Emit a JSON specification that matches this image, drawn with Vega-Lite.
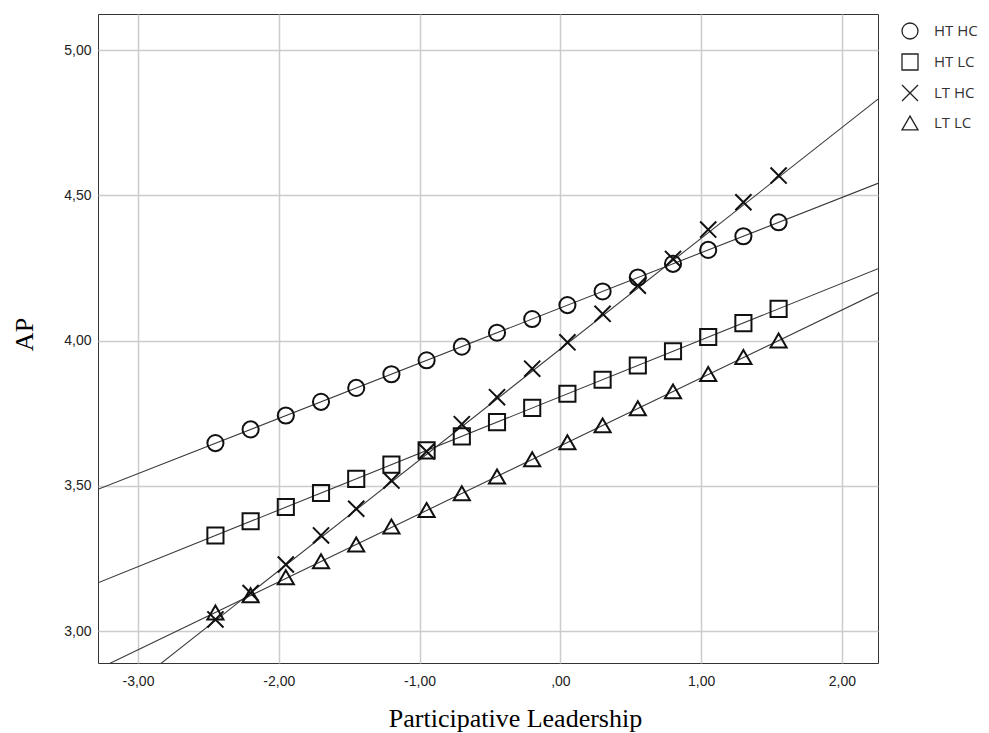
{
  "$schema": "https://vega.github.io/schema/vega-lite/v6.json",
  "width": 780,
  "height": 649,
  "autosize": "none",
  "padding": {"left": 98, "top": 14, "right": 111, "bottom": 70},
  "background": "white",
  "config": {
    "view": {"stroke": "#333333", "strokeWidth": 1},
    "axis": {
      "grid": true,
      "gridColor": "#cccccc",
      "gridWidth": 1.5,
      "ticks": false,
      "domain": false,
      "labelFont": "Liberation Sans",
      "labelFontSize": 14,
      "labelColor": "#222222",
      "titleFont": "Liberation Serif",
      "titleFontSize": 26,
      "titleFontWeight": "normal",
      "titleColor": "#000000"
    }
  },
  "datasets": {
    "points": [
      {"series": "HT HC", "x": -2.45, "y": 3.647}, {"series": "HT HC", "x": -2.2, "y": 3.694}, {"series": "HT HC", "x": -1.95, "y": 3.742}, {"series": "HT HC", "x": -1.7, "y": 3.789}, {"series": "HT HC", "x": -1.45, "y": 3.837}, {"series": "HT HC", "x": -1.2, "y": 3.884}, {"series": "HT HC", "x": -0.95, "y": 3.932}, {"series": "HT HC", "x": -0.7, "y": 3.979}, {"series": "HT HC", "x": -0.45, "y": 4.027}, {"series": "HT HC", "x": -0.2, "y": 4.074}, {"series": "HT HC", "x": 0.05, "y": 4.122}, {"series": "HT HC", "x": 0.3, "y": 4.169}, {"series": "HT HC", "x": 0.55, "y": 4.217}, {"series": "HT HC", "x": 0.8, "y": 4.264}, {"series": "HT HC", "x": 1.05, "y": 4.312}, {"series": "HT HC", "x": 1.3, "y": 4.359}, {"series": "HT HC", "x": 1.55, "y": 4.407},
      {"series": "HT LC", "x": -2.45, "y": 3.329}, {"series": "HT LC", "x": -2.2, "y": 3.378}, {"series": "HT LC", "x": -1.95, "y": 3.427}, {"series": "HT LC", "x": -1.7, "y": 3.475}, {"series": "HT LC", "x": -1.45, "y": 3.524}, {"series": "HT LC", "x": -1.2, "y": 3.573}, {"series": "HT LC", "x": -0.95, "y": 3.622}, {"series": "HT LC", "x": -0.7, "y": 3.670}, {"series": "HT LC", "x": -0.45, "y": 3.719}, {"series": "HT LC", "x": -0.2, "y": 3.768}, {"series": "HT LC", "x": 0.05, "y": 3.817}, {"series": "HT LC", "x": 0.3, "y": 3.865}, {"series": "HT LC", "x": 0.55, "y": 3.914}, {"series": "HT LC", "x": 0.8, "y": 3.963}, {"series": "HT LC", "x": 1.05, "y": 4.012}, {"series": "HT LC", "x": 1.3, "y": 4.060}, {"series": "HT LC", "x": 1.55, "y": 4.109},
      {"series": "LT HC", "x": -2.45, "y": 3.040}, {"series": "LT HC", "x": -2.2, "y": 3.131}, {"series": "LT HC", "x": -1.95, "y": 3.229}, {"series": "LT HC", "x": -1.7, "y": 3.329}, {"series": "LT HC", "x": -1.45, "y": 3.421}, {"series": "LT HC", "x": -1.2, "y": 3.518}, {"series": "LT HC", "x": -0.95, "y": 3.618}, {"series": "LT HC", "x": -0.7, "y": 3.712}, {"series": "LT HC", "x": -0.45, "y": 3.805}, {"series": "LT HC", "x": -0.2, "y": 3.903}, {"series": "LT HC", "x": 0.05, "y": 3.994}, {"series": "LT HC", "x": 0.3, "y": 4.092}, {"series": "LT HC", "x": 0.55, "y": 4.189}, {"series": "LT HC", "x": 0.8, "y": 4.281}, {"series": "LT HC", "x": 1.05, "y": 4.382}, {"series": "LT HC", "x": 1.3, "y": 4.476}, {"series": "LT HC", "x": 1.55, "y": 4.568},
      {"series": "LT LC", "x": -2.45, "y": 3.064}, {"series": "LT LC", "x": -2.2, "y": 3.123}, {"series": "LT LC", "x": -1.95, "y": 3.185}, {"series": "LT LC", "x": -1.7, "y": 3.240}, {"series": "LT LC", "x": -1.45, "y": 3.298}, {"series": "LT LC", "x": -1.2, "y": 3.360}, {"series": "LT LC", "x": -0.95, "y": 3.417}, {"series": "LT LC", "x": -0.7, "y": 3.474}, {"series": "LT LC", "x": -0.45, "y": 3.532}, {"series": "LT LC", "x": -0.2, "y": 3.591}, {"series": "LT LC", "x": 0.05, "y": 3.650}, {"series": "LT LC", "x": 0.3, "y": 3.708}, {"series": "LT LC", "x": 0.55, "y": 3.767}, {"series": "LT LC", "x": 0.8, "y": 3.825}, {"series": "LT LC", "x": 1.05, "y": 3.885}, {"series": "LT LC", "x": 1.3, "y": 3.943}, {"series": "LT LC", "x": 1.55, "y": 4.000}
    ],
    "lines": [
      {"series": "HT HC", "x": -3.284, "y": 3.488}, {"series": "HT HC", "x": 2.256, "y": 4.541},
      {"series": "HT LC", "x": -3.284, "y": 3.166}, {"series": "HT LC", "x": 2.256, "y": 4.247},
      {"series": "LT HC", "x": -3.284, "y": 2.718}, {"series": "LT HC", "x": 2.256, "y": 4.831},
      {"series": "LT LC", "x": -3.284, "y": 2.869}, {"series": "LT LC", "x": 2.256, "y": 4.165}
    ]
  },
  "layer": [
    {
      "data": {"name": "lines"},
      "mark": {"type": "line", "color": "#3a3a3a", "strokeWidth": 1.1, "clip": true},
      "encoding": {
        "x": {
          "field": "x", "type": "quantitative",
          "scale": {"domain": [-3.284, 2.256], "nice": false, "zero": false},
          "axis": {
            "title": "Participative Leadership",
            "values": [-3, -2, -1, 0, 1, 2],
            "labelExpr": "datum.value == 0 ? ',00' : replace((datum.value < 0 ? '-' : '') + format(abs(datum.value), '.2f'), '.', ',')",
            "labelPadding": 11,
            "titleX": 417,
            "titleY": 63,
            "titleAlign": "center",
            "titleBaseline": "alphabetic"
          }
        },
        "y": {
          "field": "y", "type": "quantitative",
          "scale": {"domain": [2.89, 5.124], "nice": false, "zero": false},
          "axis": {
            "title": "AP",
            "values": [3, 3.5, 4, 4.5, 5],
            "labelExpr": "replace(format(datum.value, '.2f'), '.', ',')",
            "labelPadding": 7,
            "titleX": -66,
            "titleY": 320,
            "titleAngle": 270,
            "titleAlign": "center",
            "titleBaseline": "alphabetic"
          }
        },
        "detail": {"field": "series"}
      }
    },
    {
      "data": {"name": "points"},
      "mark": {"type": "point", "filled": false, "color": "#111111", "strokeWidth": 2, "opacity": 1, "size": 260},
      "encoding": {
        "x": {"field": "x", "type": "quantitative"},
        "y": {"field": "y", "type": "quantitative"},
        "shape": {
          "field": "series", "type": "nominal",
          "scale": {
            "domain": ["HT HC", "HT LC", "LT HC", "LT LC"],
            "range": ["circle", "square", "M-1,-1L1,1M-1,1L1,-1", "triangle-up"]
          },
          "legend": {
            "title": null,
            "orient": "none",
            "legendX": 803,
            "legendY": 8,
            "symbolSize": 256,
            "symbolStrokeWidth": 1.3,
            "symbolStrokeColor": "#222222",
            "symbolFillColor": "transparent",
            "labelFont": "Open Sans",
            "labelFontSize": 15,
            "labelColor": "#333333",
            "rowPadding": 9,
            "labelOffset": 15
          }
        }
      }
    }
  ]
}
